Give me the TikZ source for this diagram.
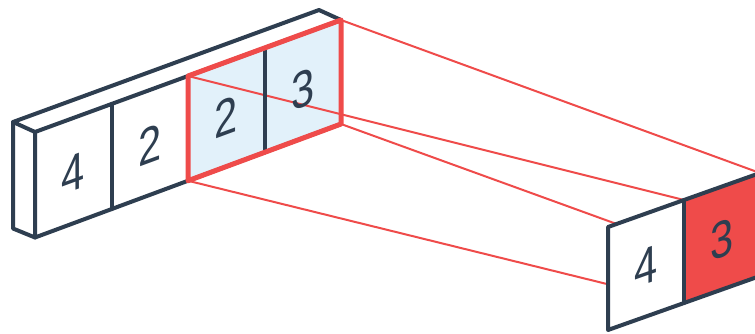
\documentclass[tikz,border=0pt]{standalone}
\usepackage{fontspec}
\usepackage{graphicx}
\setmainfont{Liberation Sans}
\usetikzlibrary{calc}
\definecolor{navy}{HTML}{2E3E50}
\definecolor{coral}{HTML}{EF4B4A}
\definecolor{paleblue}{HTML}{E2F1FA}
\newcommand{\dig}[1]{\scalebox{0.8}[1]{\fontsize{52}{52}\selectfont #1}}
\tikzset{
  edge/.style={draw=navy, line width=4pt, line join=round, line cap=round},
  frame/.style={draw=coral, line width=5pt, line join=round},
  ray/.style={draw=coral, line width=2pt},
  digitL/.style={text=navy, inner sep=0pt, yslant=0.368},
  digitR/.style={text=navy, inner sep=0pt, yslant=0.355}
}
\begin{document}
\begin{tikzpicture}[x=1pt, y=-1pt]
\useasboundingbox (0,0) rectangle (755,333);

% input strip: front face corners
\coordinate (t0) at (35,132);
\coordinate (t4) at (341,20);
\coordinate (b0) at (35,237.5);
\coordinate (b4) at (341,124);
\foreach \i/\f in {1/0.25,2/0.5,3/0.75}{
  \coordinate (t\i) at ($(t0)!\f!(t4)$);
  \coordinate (b\i) at ($(b0)!\f!(b4)$);
}
% depth of the strip
\coordinate (t0d) at ($(t0)+(-22,-10)$);
\coordinate (t4d) at ($(t4)+(-22,-10)$);
\coordinate (b0d) at ($(b0)+(-22,-9)$);

% output strip
\coordinate (r0) at (608,227);
\coordinate (r1) at (684,200);
\coordinate (r2) at (760,173);
\coordinate (q0) at (608,330);
\coordinate (q1) at (684,303);
\coordinate (q2) at (760,276);

% input strip body
\fill[white] (t0d) -- (t4d) -- (t4) -- (b4) -- (b0) -- (b0d) -- cycle;
\fill[paleblue] (t2) -- (t4) -- (b4) -- (b2) -- cycle;
\draw[edge] (t0) -- (t0d) -- (t4d) -- (t4);
\draw[edge] (t0d) -- (b0d) -- (b0);
\draw[edge] (t4) -- (t0) -- (b0) -- (b4);
\draw[edge] (t1) -- (b1);

% projection rays from the window to the output cell
\draw[ray] (t4) -- (r2);
\draw[ray] (t2) -- (r1);
\draw[ray] (b4) -- (q2);
\draw[ray] (b2) -- (q1);

\draw[edge] (t3) -- (b3);
\draw[frame] (t2) -- (t4) -- (b4) -- (b2) -- cycle;

% input values
\node[digitL] (d4a) at ($($(t0)!0.5!(b1)$)+(0,3)$) {\dig{4}};
\node[digitL] (d2a) at ($($(t1)!0.5!(b2)$)+(0,3)$) {\dig{2}};
\node[digitL] (d2b) at ($($(t2)!0.5!(b3)$)+(0,3)$) {\dig{2}};
\node[digitL] (d3a) at ($($(t3)!0.5!(b4)$)+(0,3)$) {\dig{3}};

% output strip body
\fill[white] (r0) -- (r1) -- (q1) -- (q0) -- cycle;
\fill[coral] (r1) -- (r2) -- (q2) -- (q1) -- cycle;
\draw[edge] (r2) -- (r0) -- (q0) -- (q2);
\draw[edge] (r1) -- (q1);

\node[digitR] (d4b) at ($($(r0)!0.5!(q1)$)+(0,1)$) {\dig{4}};
\node[digitR] (d3b) at ($($(r1)!0.5!(q2)$)+(0,1)$) {\dig{3}};
\end{tikzpicture}
\end{document}
